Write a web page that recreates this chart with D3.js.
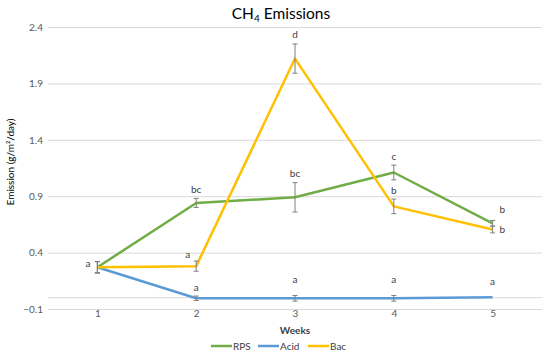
<!DOCTYPE html>
<html>
<head>
<meta charset="utf-8">
<script src="https://cdn.jsdelivr.net/npm/d3@7"></script>
<style>
  html, body { margin: 0; padding: 0; background: #fff; }
  svg { display: block; font-family: Lato, "Open Sans", sans-serif; }
</style>
</head>
<body>
<svg id="chart" width="550" height="359"></svg>
<script>
// ---- data ----
const weeks = [1, 2, 3, 4, 5];
const yTicks = [-0.1, 0.4, 0.9, 1.4, 1.9, 2.4];

const rpsValues  = [0.27, 0.84, 0.89, 1.11, 0.66];
const rpsErrors  = [0.05, 0.04, 0.13, 0.065, 0.025];
const rpsLetters = [null, "bc", "bc", "c", "b"];
const rpsPlace   = [null, "above", "above", "above", "right-above"];

const acidValues  = [0.27, -0.005, -0.005, -0.005, 0.004];
const acidErrors  = [0.05, 0.02, 0.025, 0.025, 0];
const acidLetters = [null, "a", "a", "a", "a"];
const acidPlace   = [null, "above", "above-high", "above-high", "above-high"];

const bacValues  = [0.27, 0.28, 2.12, 0.81, 0.605];
const bacErrors  = [0.05, 0.045, 0.13, 0.065, 0.03];
const bacLetters = ["a", "a", "d", "b", "b"];
const bacPlace   = ["left", "left-above", "above", "above", "right"];

const seriesNames  = ["RPS", "Acid", "Bac"];
const seriesColors = ["#70AD47", "#5B9BD5", "#FFC000"];

const series = [
  { name: seriesNames[0], color: seriesColors[0], values: rpsValues,  errors: rpsErrors,  letters: rpsLetters,  place: rpsPlace },
  { name: seriesNames[1], color: seriesColors[1], values: acidValues, errors: acidErrors, letters: acidLetters, place: acidPlace },
  { name: seriesNames[2], color: seriesColors[2], values: bacValues,  errors: bacErrors,  letters: bacLetters,  place: bacPlace }
];

// ---- layout ----
const svg = d3.select("#chart");
const plot = { left: 48, right: 542, top: 27, bottom: 309 };

const x = d3.scalePoint().domain(weeks).range([plot.left, plot.right]).padding(0.5);
const y = d3.scaleLinear().domain([-0.1, 2.4]).range([plot.bottom, plot.top]);

// gridlines
svg.append("g")
  .attr("transform", `translate(${plot.left},0)`)
  .call(d3.axisLeft(y).tickValues(yTicks).tickSize(-(plot.right - plot.left)).tickFormat(""))
  .call(g => g.select(".domain").remove())
  .call(g => g.selectAll("line").attr("stroke", "#d9d9d9").attr("stroke-width", 1));

// horizontal category axis line at 0
svg.append("line")
  .attr("x1", plot.left).attr("x2", plot.right)
  .attr("y1", y(0)).attr("y2", y(0))
  .attr("stroke", "#d9d9d9").attr("stroke-width", 1);

// y axis labels
svg.append("g")
  .attr("transform", `translate(${plot.left},0)`)
  .call(d3.axisLeft(y).tickValues(yTicks).tickSize(0).tickPadding(5).tickFormat(d3.format(".1f")))
  .call(g => g.select(".domain").remove())
  .call(g => g.selectAll("text").attr("fill", "#595959").style("font-size", "10px").style("font-family", "Lato, sans-serif"));

// x axis labels
svg.append("g")
  .attr("transform", `translate(0,${plot.bottom})`)
  .call(d3.axisBottom(x).tickSize(0).tickPadding(1))
  .call(g => g.select(".domain").remove())
  .call(g => g.selectAll("text").attr("fill", "#595959").style("font-size", "10px").style("font-family", "Lato, sans-serif"));

// lines
const line = d3.line().x((d, i) => x(weeks[i])).y(d => y(d));
series.forEach(s => {
  svg.append("path")
    .datum(s.values)
    .attr("fill", "none")
    .attr("stroke", s.color)
    .attr("stroke-width", 2.5)
    .attr("stroke-linejoin", "round")
    .attr("d", line);
});

// error bars
const cap = 2.5;
series.forEach(s => {
  const g = svg.append("g").attr("stroke", "#7f7f7f").attr("stroke-width", 1);
  s.values.forEach((v, i) => {
    const e = s.errors[i];
    if (!e) return;
    const cx = x(weeks[i]);
    g.append("line").attr("x1", cx).attr("x2", cx).attr("y1", y(v + e)).attr("y2", y(v - e));
    g.append("line").attr("x1", cx - cap).attr("x2", cx + cap).attr("y1", y(v + e)).attr("y2", y(v + e));
    g.append("line").attr("x1", cx - cap).attr("x2", cx + cap).attr("y1", y(v - e)).attr("y2", y(v - e));
  });
});

// significance letters
series.forEach(s => {
  s.values.forEach((v, i) => {
    const t = s.letters[i];
    if (!t) return;
    const px = x(weeks[i]);
    const top = y(v + s.errors[i]);
    const py = y(v);
    let tx = px, ty = top - 5.5, anchor = "middle";
    switch (s.place[i]) {
      case "above-high": ty = top - 12; break;
      case "left": tx = px - 7; ty = py; anchor = "end"; break;
      case "left-above": tx = px - 6; ty = top - 3.5; anchor = "end"; break;
      case "right": tx = px + 7; ty = py + 3.5; anchor = "start"; break;
      case "right-above": tx = px + 7; ty = py - 10; anchor = "start"; break;
    }
    svg.append("text")
      .attr("x", tx).attr("y", ty)
      .attr("text-anchor", anchor)
      .attr("fill", "#404040")
      .style("font-size", "10px")
      .text(t);
  });
});

// title
const title = svg.append("text")
  .attr("x", 281).attr("y", 19)
  .attr("text-anchor", "middle")
  .attr("fill", "#000")
  .style("font-size", "15.5px");
title.append("tspan").text("CH");
title.append("tspan").attr("dy", 3).style("font-size", "10px").text("4");
title.append("tspan").attr("dy", -3).text(" Emissions");

// y axis title
svg.append("text")
  .attr("transform", `translate(14,162) rotate(-90)`)
  .attr("text-anchor", "middle")
  .attr("fill", "#000")
  .style("font-size", "10px")
  .text("Emission (g/m²/day)");

// x axis title
svg.append("text")
  .attr("x", 295).attr("y", 334)
  .attr("text-anchor", "middle")
  .attr("fill", "#404040")
  .style("font-size", "10px")
  .style("font-weight", "bold")
  .text("Weeks");

// legend
const legendX = [211, 258, 308];
const legend = svg.append("g");
series.forEach((s, i) => {
  legend.append("line")
    .attr("x1", legendX[i]).attr("x2", legendX[i] + 21)
    .attr("y1", 346).attr("y2", 346)
    .attr("stroke", s.color).attr("stroke-width", 2.5);
  legend.append("text")
    .attr("x", legendX[i] + 22).attr("y", 349.5)
    .attr("fill", "#404040")
    .style("font-size", "10px")
    .text(s.name);
});
</script>
</body>
</html>
